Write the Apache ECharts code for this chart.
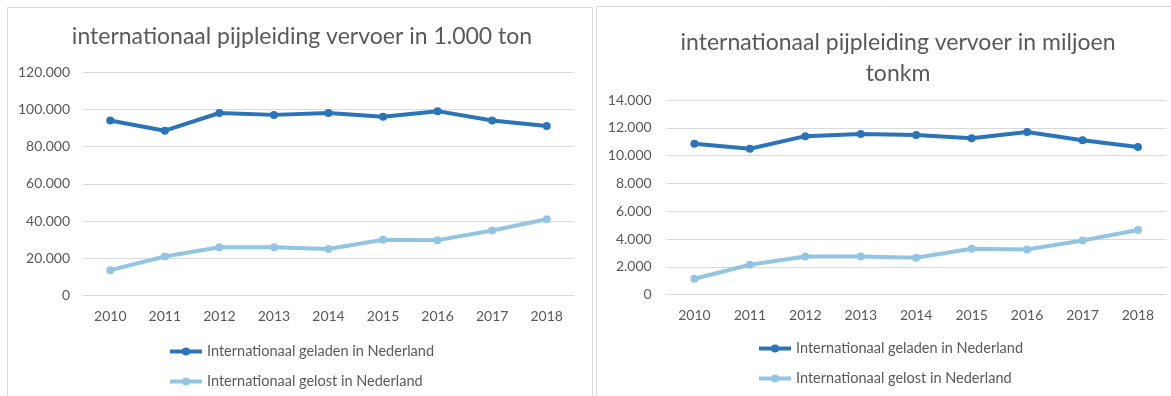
<!DOCTYPE html>
<html>
<head>
<meta charset="utf-8">
<script src="https://cdn.jsdelivr.net/npm/echarts@6/dist/echarts.min.js"></script>
<style>html,body{margin:0;padding:0;background:#fff;}#c{width:1171px;height:396px;}</style>
</head>
<body>
<div id="c"></div>
<script>
const years = ['2010','2011','2012','2013','2014','2015','2016','2017','2018'];
const tonGeladen = [94000, 88500, 98000, 97000, 98000, 96000, 99000, 94000, 91000];
const tonGelost = [13700, 21000, 26000, 26000, 25000, 30000, 29800, 35000, 41000];
const tonkmGeladen = [10850, 10500, 11400, 11550, 11480, 11250, 11700, 11100, 10620];
const tonkmGelost = [1150, 2150, 2750, 2750, 2650, 3300, 3250, 3900, 4650];
const seriesNames = ['Internationaal geladen in Nederland', 'Internationaal gelost in Nederland'];
const titles = ['internationaal pijpleiding vervoer in 1.000 ton', 'internationaal pijpleiding vervoer in miljoen\ntonkm'];

const FONT = 'Lato';
const TXT = '#595959';
const GRID = '#d9d9d9';
const DARK = '#2B74B7';
const LIGHT = '#93C5E3';

function fmt(v){ return String(v).replace(/\B(?=(\d{3})+(?!\d))/g, '.'); }

function xAxis(i){
  return {type:'category', gridIndex:i, data:years, boundaryGap:true,
    axisLine:{show:true, lineStyle:{color:GRID, width:1}}, axisTick:{show:false},
    axisLabel:{color:TXT, fontFamily:FONT, fontSize:14, margin:14}};
}
function yAxis(i, max, interval, margin){
  return {type:'value', gridIndex:i, min:0, max:max, interval:interval,
    axisLine:{show:false}, axisTick:{show:false},
    splitLine:{lineStyle:{color:GRID, width:1}},
    axisLabel:{color:TXT, fontFamily:FONT, fontSize:14, margin:margin, formatter:fmt}};
}
function line(name, data, color, i){
  return {type:'line', name:name, xAxisIndex:i, yAxisIndex:i, data:data,
    symbol:'circle', symbolSize:8, lineStyle:{color:color, width:4}, itemStyle:{color:color},
    emphasis:{disabled:true}, animation:false};
}
function legend(left, top){
  return {left:left, top:top, padding:0, orient:'vertical', itemWidth:32, itemHeight:10, itemGap:15,
    lineStyle:{width:4}, itemStyle:{},
    data:seriesNames.map(n=>({name:n})), textStyle:{color:TXT, fontFamily:FONT, fontSize:14.5},
    selectedMode:false};
}

const option = {
  animation:false,
  graphic:[
    {type:'rect', shape:{x:7.5, y:7.5, width:585, height:400}, style:{fill:'none', stroke:GRID, lineWidth:1}, silent:true},
    {type:'rect', shape:{x:596.5, y:6.5, width:600, height:400}, style:{fill:'none', stroke:GRID, lineWidth:1}, silent:true}
  ],
  title:[
    {text:titles[0], left:297, top:20, textAlign:'center',
      textStyle:{color:TXT, fontFamily:FONT, fontSize:23, fontWeight:'normal'}},
    {text:titles[1], left:893, top:22, textAlign:'center',
      textStyle:{color:TXT, fontFamily:FONT, fontSize:23, fontWeight:'normal', lineHeight:31}}
  ],
  legend:[legend(168, 344), legend(757, 341)],
  grid:[
    {left:83, top:72, width:491, height:223.7},
    {left:666.7, top:100, width:499, height:194.7}
  ],
  xAxis:[xAxis(0), xAxis(1)],
  yAxis:[yAxis(0, 120000, 20000, 13), yAxis(1, 14000, 2000, 15)],
  series:[
    line(seriesNames[0], tonGeladen, DARK, 0),
    line(seriesNames[1], tonGelost, LIGHT, 0),
    line(seriesNames[0], tonkmGeladen, DARK, 1),
    line(seriesNames[1], tonkmGelost, LIGHT, 1)
  ]
};

const chart = echarts.init(document.getElementById('c'), null, {renderer:'canvas'});
chart.setOption(option);
</script>
</body>
</html>
